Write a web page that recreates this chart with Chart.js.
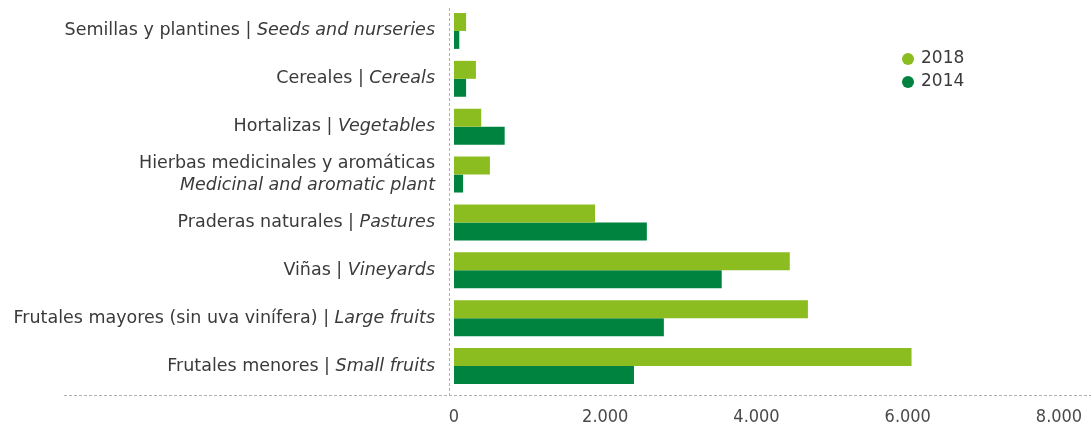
<!DOCTYPE html>
<html>
<head>
<meta charset="utf-8">
<script src="https://cdn.jsdelivr.net/npm/chart.js@4.4.1/dist/chart.umd.min.js"></script>
<style>
  body { margin: 0; background: #fff; }
  #wrap { position: relative; width: 1091px; height: 429px; }
</style>
</head>
<body>
<div id="wrap"><canvas id="cultivos"></canvas></div>
<script>
// categories, spanish part + english (italic) part
const categoriesEs = [
  "Semillas y plantines",
  "Cereales",
  "Hortalizas",
  "Hierbas medicinales y aromáticas",
  "Praderas naturales",
  "Viñas",
  "Frutales mayores (sin uva vinífera)",
  "Frutales menores"
];
const categoriesEn = [
  "Seeds and nurseries",
  "Cereals",
  "Vegetables",
  "Medicinal and aromatic plant",
  "Pastures",
  "Vineyards",
  "Large fruits",
  "Small fruits"
];
// which labels go on two lines
const twoLines = [false, false, false, true, false, false, false, false];

const values2018 = [160, 290, 360, 475, 1865, 4440, 4680, 6050];
const values2014 = [70, 160, 670, 120, 2550, 3540, 2775, 2380];
const seriesNames = ["2018", "2014"];
const xTicks = [0, 2000, 4000, 6000, 8000];

const lightGreen = "#8bbd21";
const darkGreen = "#00833e";
const textColor = "#3a3a3a";
const labelFont = '"DejaVu Sans", sans-serif';

function formatMiles(v) {
  return String(v).replace(/\B(?=(\d{3})+(?!\d))/g, ".");
}

const extras = {
  id: "extras",
  afterDraw(chart) {
    const ctx = chart.ctx;
    const x = chart.scales.x;
    const y = chart.scales.y;
    ctx.save();

    // dashed lines
    ctx.strokeStyle = "#b0b0b0";
    ctx.lineWidth = 1;
    ctx.setLineDash([3, 2]);
    const zx = Math.round(x.getPixelForValue(0)) - 4.5;
    ctx.beginPath();
    ctx.moveTo(zx, 8);
    ctx.lineTo(zx, 395);
    ctx.stroke();
    ctx.beginPath();
    ctx.moveTo(64, 395.5);
    ctx.lineTo(1091, 395.5);
    ctx.stroke();
    ctx.setLineDash([]);

    // category labels with mixed fonts
    const right = 435;
    ctx.fillStyle = textColor;
    ctx.textBaseline = "middle";
    ctx.textAlign = "left";
    categoriesEs.forEach((es, i) => {
      const cy = y.getPixelForValue(i);
      const en = categoriesEn[i];
      const normal = "17.5px " + labelFont;
      const italic = "italic 17.5px " + labelFont;
      if (twoLines[i]) {
        ctx.font = normal;
        ctx.fillText(es, right - ctx.measureText(es).width, cy - 11);
        ctx.font = italic;
        ctx.fillText(en, right - ctx.measureText(en).width, cy + 11);
      } else {
        const first = es + " | ";
        ctx.font = italic;
        const wEn = ctx.measureText(en).width;
        ctx.font = normal;
        const wFirst = ctx.measureText(first).width;
        ctx.fillText(first, right - wEn - wFirst, cy);
        ctx.font = italic;
        ctx.fillText(en, right - wEn, cy);
      }
    });

    // legend
    const colors = [lightGreen, darkGreen];
    ctx.font = "17px " + labelFont;
    seriesNames.forEach((name, i) => {
      const ly = 59 + i * 23;
      ctx.fillStyle = colors[i];
      ctx.beginPath();
      ctx.arc(908, ly, 6, 0, Math.PI * 2);
      ctx.fill();
      ctx.fillStyle = textColor;
      ctx.fillText(name, 921, ly);
    });
    ctx.restore();
  }
};

new Chart(document.getElementById("cultivos"), {
  type: "bar",
  data: {
    labels: categoriesEs,
    datasets: [
      {
        label: seriesNames[0],
        data: values2018,
        backgroundColor: lightGreen,
        categoryPercentage: 0.75,
        barPercentage: 1
      },
      {
        label: seriesNames[1],
        data: values2014,
        backgroundColor: darkGreen,
        categoryPercentage: 0.75,
        barPercentage: 1
      }
    ]
  },
  options: {
    indexAxis: "y",
    responsive: true,
    maintainAspectRatio: false,
    animation: false,
    layout: {
      padding: { left: 454, right: 32, top: 7, bottom: 0 }
    },
    plugins: {
      legend: { display: false },
      tooltip: { enabled: false }
    },
    scales: {
      x: {
        min: 0,
        max: 8000,
        afterBuildTicks(scale) {
          scale.ticks = xTicks.map(v => ({ value: v }));
        },
        afterFit(scale) {
          scale.height = 39;
          scale.paddingLeft = 0;
          scale.paddingRight = 0;
        },
        grid: { display: false, drawTicks: false },
        border: { display: false },
        ticks: {
          padding: 17,
          maxRotation: 0,
          color: "#4a4a4a",
          font: { family: '"DejaVu Sans Condensed", "DejaVu Sans", sans-serif', size: 18 },
          callback: (v) => formatMiles(v)
        }
      },
      y: {
        grid: { display: false, drawTicks: false },
        border: { display: false },
        ticks: { display: false }
      }
    }
  },
  plugins: [extras]
});
</script>
</body>
</html>
